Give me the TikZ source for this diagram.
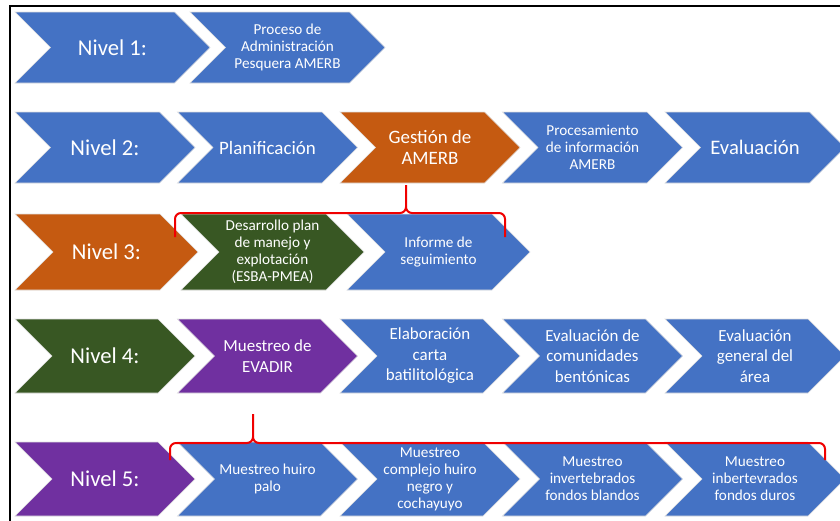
\documentclass[tikz,border=0pt]{standalone}
\usepackage{fontspec}
\setmainfont{Carlito}
\definecolor{cblue}{HTML}{4472C4}
\definecolor{corange}{HTML}{C55A11}
\definecolor{cgreen}{HTML}{385723}
\definecolor{cpurple}{HTML}{7030A0}
\definecolor{bracered}{HTML}{F00000}
\tikzset{
  chevron/.style={draw=black!12, line width=0.5pt},
  chevtext/.style={text=white, align=center, inner sep=0pt},
  lvl/.style={font=\fontsize{17}{20}\selectfont},
  sm/.style={font=\fontsize{11.4}{12.7}\selectfont},
  md/.style={font=\fontsize{12.7}{15.4}\selectfont},
  lg/.style={font=\fontsize{14.2}{15.8}\selectfont},
  xl/.style={font=\fontsize{15.5}{18}\selectfont},
  bracket/.style={draw=bracered, line width=1.5pt},
  frame/.style={draw=black, line width=1.6pt}
}
% chevron: name, left, top, width, height, colour, font style, text
\newcommand{\chev}[8]{%
  \filldraw[chevron, fill=#6] (#2,#3) -- ({#2+#4-#5/2},#3) -- ({#2+#4},{#3+#5/2})
    -- ({#2+#4-#5/2},{#3+#5}) -- (#2,{#3+#5}) -- ({#2+#5/2},{#3+#5/2}) -- cycle;
  \node[chevtext, #7] (#1) at ({#2+#4/2},{#3+#5/2}) {#8};
}
\begin{document}
\begin{tikzpicture}[x=0.75pt,y=-0.75pt]
\useasboundingbox (0,0) rectangle (840,521);
\clip (0,0) rectangle (840,521);
\fill[white] (0,0) rectangle (840,521);

% frame
\draw[frame] (10,522) -- (10,6) -- (841,6);

% level 1
\chev{n1}{15}{12}{195}{71}{cblue}{lvl}{Nivel 1:}
\chev{proc}{190}{12}{195}{71}{cblue}{sm}{Proceso de\\Administración\\Pesquera AMERB}

% level 2
\chev{n2}{15}{112}{180}{71}{cblue}{lvl}{Nivel 2:}
\chev{plan}{177.5}{112}{180}{71}{cblue}{lg}{Planificación}
\chev{gest}{340}{112}{180}{71}{corange}{lg}{Gestión de\\AMERB}
\chev{procinf}{502.5}{112}{180}{71}{cblue}{sm}{Procesamiento\\de información\\AMERB}
\chev{eval}{665}{112}{180}{71}{cblue}{xl}{Evaluación}

% level 3
\chev{n3}{15}{214}{183}{76}{corange}{lvl}{Nivel 3:}
\chev{desa}{181}{214}{183}{76}{cgreen}{sm}{Desarrollo plan\\de manejo y\\explotación\\(ESBA-PMEA)}
\chev{info}{347}{214}{183}{76}{cblue}{sm}{Informe de\\seguimiento}

% level 4
\chev{n4}{15}{319}{180}{74}{cgreen}{lvl}{Nivel 4:}
\chev{evadir}{177.5}{319}{180}{74}{cpurple}{md}{Muestreo de\\EVADIR}
\chev{carta}{340}{319}{180}{74}{cblue}{md}{Elaboración\\carta\\batilitológica}
\chev{bent}{502.5}{319}{180}{74}{cblue}{md}{Evaluación de\\comunidades\\bentónicas}
\chev{area}{665}{319}{180}{74}{cblue}{md}{Evaluación\\general del\\área}

% level 5
\chev{n5}{15}{442}{180}{74}{cpurple}{lvl}{Nivel 5:}
\chev{huiro}{177.5}{442}{180}{74}{cblue}{sm}{Muestreo huiro\\palo}
\chev{compl}{340}{442}{180}{74}{cblue}{sm}{Muestreo\\complejo huiro\\negro y\\cochayuyo}
\chev{blandos}{502.5}{442}{180}{74}{cblue}{sm}{Muestreo\\invertebrados\\fondos blandos}
\chev{duros}{665}{442}{180}{74}{cblue}{sm}{Muestreo\\inbertevrados\\fondos duros}

% bracket grouping level 3 under "Gestión de AMERB"
\coordinate (g-stem) at (406,185);
\coordinate (g-peak) at (406,207);
\coordinate (g-left) at (175,237);
\coordinate (g-right) at (505,237);
\draw[bracket] (g-left) -- (175,219) to[out=90,in=180] (181,213) -- (400,213)
  to[out=0,in=-90] (g-peak) -- (g-stem);
\draw[bracket] (g-right) -- (505,219) to[out=90,in=0] (499,213) -- (412,213)
  to[out=180,in=-90] (g-peak);

% bracket grouping level 5 under "Muestreo de EVADIR"
\coordinate (e-stem) at (253,414);
\coordinate (e-peak) at (253,437);
\coordinate (e-left) at (170,460);
\coordinate (e-right) at (825,460);
\draw[bracket] (e-left) -- (170,449) to[out=90,in=180] (176,443) -- (247,443)
  to[out=0,in=-90] (e-peak) -- (e-stem);
\draw[bracket] (e-right) -- (825,449) to[out=90,in=0] (819,443) -- (259,443)
  to[out=180,in=-90] (e-peak);
\end{tikzpicture}
\end{document}
